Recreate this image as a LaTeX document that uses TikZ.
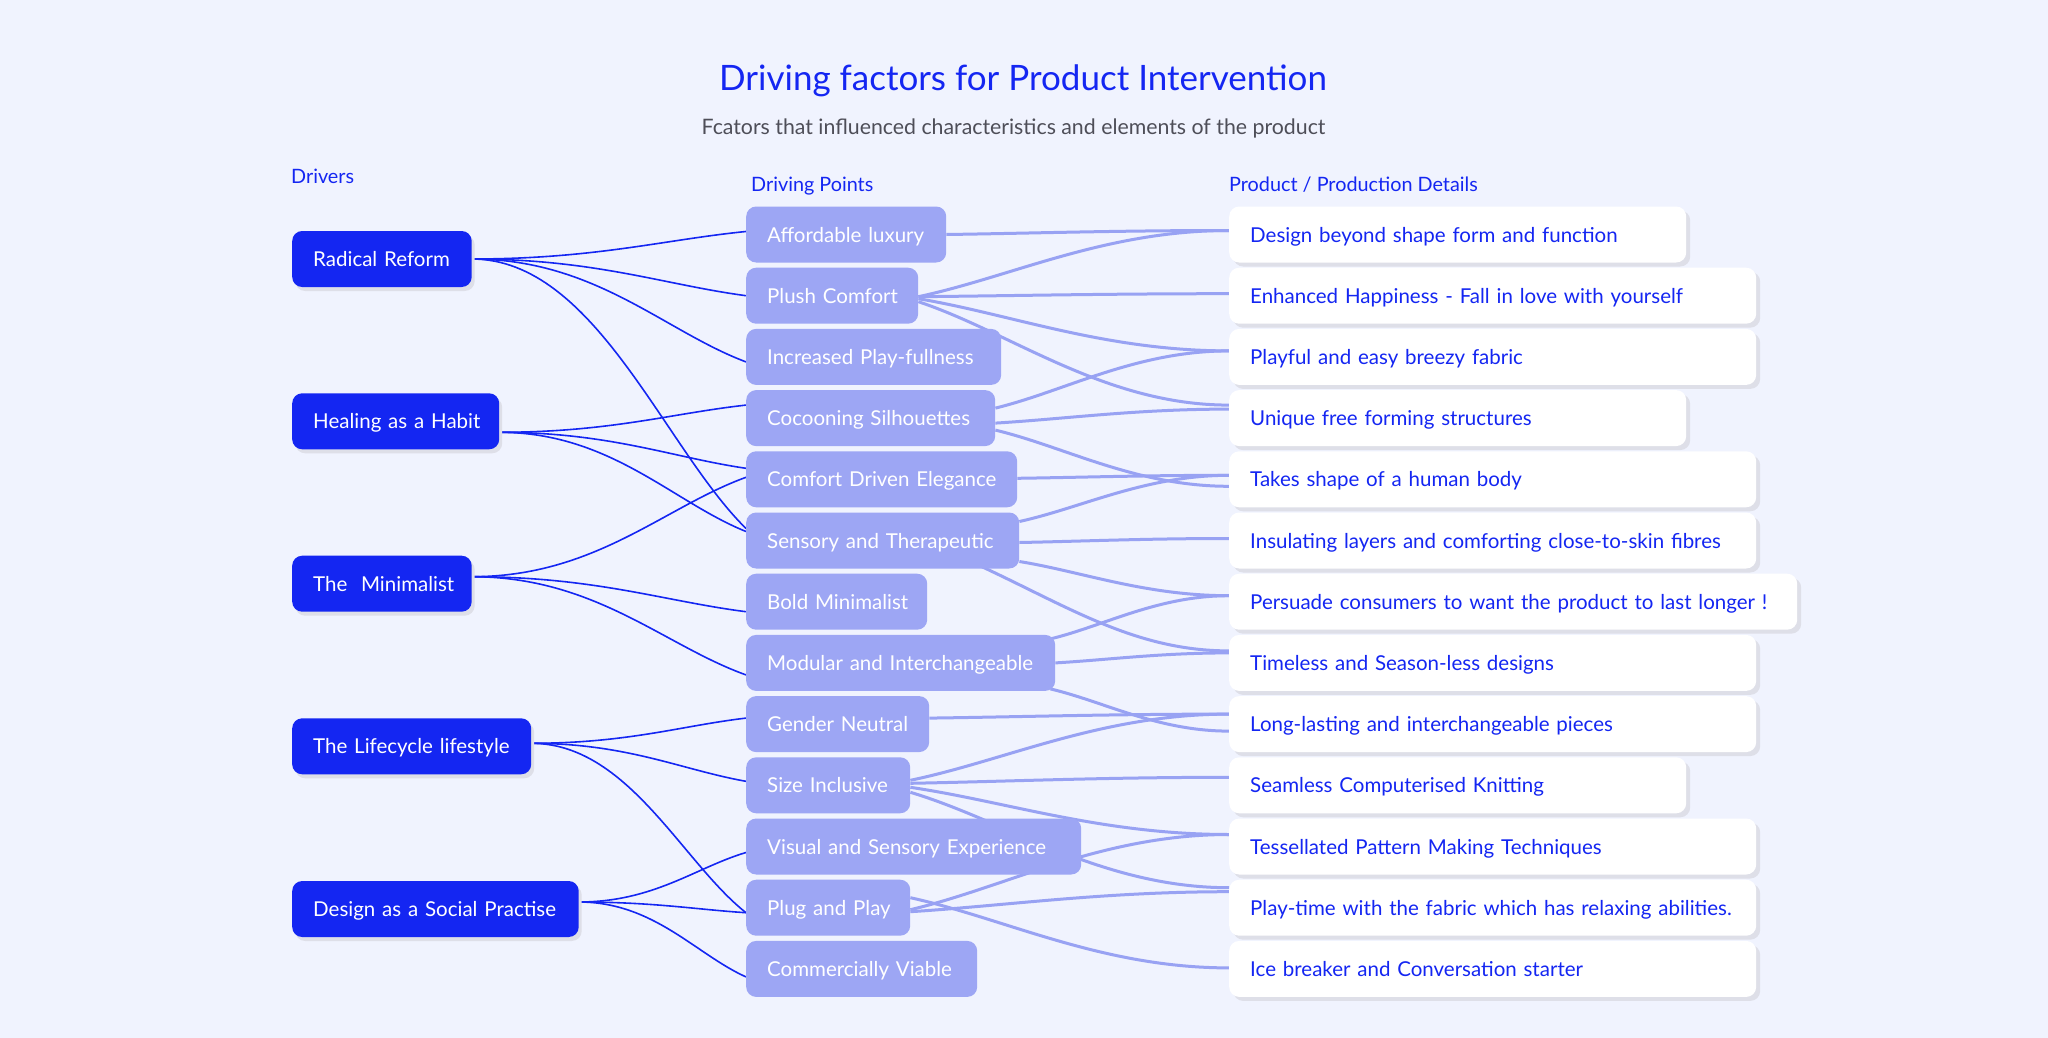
\documentclass[tikz,border=0pt]{standalone}
\usepackage{fontspec}
\setmainfont{Lato}
\usetikzlibrary{calc,shadows}
\definecolor{bgc}{RGB}{240,243,254}
\definecolor{dblue}{RGB}{20,38,242}
\definecolor{lav}{RGB}{157,166,244}
\definecolor{lavline}{RGB}{152,162,243}
\definecolor{shd}{RGB}{222,223,232}
\definecolor{subgray}{RGB}{78,78,88}
\pgfdeclarelayer{bgl}
\pgfdeclarelayer{lines}
\pgfsetlayers{bgl,lines,main}
\tikzset{
  box/.style={rounded corners=10pt, minimum height=56pt, anchor=west, inner xsep=21pt, inner ysep=0pt,
    text height=15pt, text depth=0pt, align=left, font=\fontsize{20.5}{24}\selectfont,
    execute at begin node={\hbox\bgroup}, execute at end node={\egroup}},
  dbox/.style={box, fill=dblue, text=white, drop shadow={shadow xshift=3pt, shadow yshift=-4pt, fill=shd, opacity=1}},
  mbox/.style={box, fill=lav, text=white},
  rbox/.style={box, fill=white, text=dblue, drop shadow={shadow xshift=4pt, shadow yshift=-4pt, fill=shd, opacity=1}},
  hdr/.style={inner sep=0pt, anchor=base west, text=dblue, font=\fontsize{19.8}{23}\selectfont},
  dline/.style={draw=dblue, line width=1.6pt},
  rline/.style={draw=lavline, line width=3pt},
  lcurve/.style={to path={let \p1=(\tikztostart), \p2=(\tikztotarget) in
    .. controls ({\x1+0.45*(\x2-\x1)},\y1) and ({\x2+0.3*(\x1-\x2)},{\y2+0.3*(\y1-\y2)}) .. (\tikztotarget)}},
  rcurve/.style={to path={let \p1=(\tikztostart), \p2=(\tikztotarget) in
    .. controls ({\x1+0.3*(\x2-\x1)},{\y1+0.3*(\y2-\y1)}) and ({\x2-0.4*(\x2-\x1)},\y2) .. (\tikztotarget)}}
}
\begin{document}
\begin{tikzpicture}[x=1pt,y=-1pt]
\begin{pgfonlayer}{bgl}
\fill[bgc] (0,0) rectangle (2048,1038);
\end{pgfonlayer}
\path[use as bounding box] (0,0) rectangle (2048,1038);

% titles
\node[inner sep=0pt, anchor=base, text=dblue, font=\fontsize{35}{42}\selectfont] (title) at (1023,91) {Driving factors for Product Intervention};
\node[inner sep=0pt, anchor=base, text=subgray, font=\fontsize{21.3}{25}\selectfont] (subtitle) at (1013.5,135) {Fcators that influenced characteristics and elements of the product};
\node[hdr] (h1) at (291,183.3) {Drivers};
\node[hdr] (h2) at (751,191.7) {Driving Points};
\node[hdr] (h3) at (1229,191.7) {Product / Production Details};

% drivers
\node[dbox, text width=137.5pt] (d1) at (292,259) {Radical Reform};
\node[dbox, text width=165pt] (d2) at (292,421.3) {Healing as a Habit};
\node[dbox, text width=137.5pt] (d3) at (292,583.7) {The\ \ Minimalist};
\node[dbox, text width=197pt] (d4) at (292,746.3) {The Lifecycle lifestyle};
\node[dbox, text width=244.5pt] (d5) at (292,909) {Design as a Social Practise};

% driving points
\node[mbox, text width=158pt] (m1) at (746,234.5) {Affordable luxury};
\node[mbox, text width=130pt] (m2) at (746,295.7) {Plush Comfort};
\node[mbox, text width=213pt] (m3) at (746,356.9) {Increased Play-fullness};
\node[mbox, text width=207pt] (m4) at (746,418.1) {Cocooning Silhouettes};
\node[mbox, text width=229pt] (m5) at (746,479.3) {Comfort Driven Elegance};
\node[mbox, text width=231pt] (m6) at (746,540.5) {Sensory and Therapeutic};
\node[mbox, text width=139pt] (m7) at (746,601.7) {Bold Minimalist};
\node[mbox, text width=267pt] (m8) at (746,662.9) {Modular and Interchangeable};
\node[mbox, text width=141pt] (m9) at (746,724.1) {Gender Neutral};
\node[mbox, text width=122pt] (m10) at (746,785.3) {Size Inclusive};
\node[mbox, text width=293pt] (m11) at (746,846.5) {Visual and Sensory Experience};
\node[mbox, text width=122pt] (m12) at (746,907.7) {Plug and Play};
\node[mbox, text width=189pt] (m13) at (746,968.9) {Commercially Viable};

% product details
\node[rbox, text width=415pt] (r1) at (1229,234.5) {Design beyond shape form and function};
\node[rbox, text width=485pt] (r2) at (1229,295.7) {Enhanced Happiness - Fall in love with yourself};
\node[rbox, text width=485pt] (r3) at (1229,356.9) {Playful and easy breezy fabric};
\node[rbox, text width=415pt] (r4) at (1229,418.1) {Unique free forming structures};
\node[rbox, text width=485pt] (r5) at (1229,479.3) {Takes shape of a human body};
\node[rbox, text width=485pt] (r6) at (1229,540.5) {Insulating layers and comforting close-to-skin fibres};
\node[rbox, text width=526pt] (r7) at (1229,601.7) {Persuade consumers to want the product to last longer !};
\node[rbox, text width=485pt] (r8) at (1229,662.9) {Timeless and Season-less designs};
\node[rbox, text width=485pt] (r9) at (1229,724.1) {Long-lasting and interchangeable pieces};
\node[rbox, text width=415pt] (r10) at (1229,785.3) {Seamless Computerised Knitting};
\node[rbox, text width=485pt] (r11) at (1229,846.5) {Tessellated Pattern Making Techniques};
\node[rbox, text width=485pt] (r12) at (1229,907.7) {Play-time with the fabric which has relaxing abilities.};
\node[rbox, text width=485pt] (r13) at (1229,968.9) {Ice breaker and Conversation starter};

\begin{pgfonlayer}{lines}
% drivers -> driving points
\draw[dline] (d1.east) to[lcurve] ($(m1.west)+(0,-3)$);
\draw[dline] (d1.east) to[lcurve] ($(m2.west)+(0,0)$);
\draw[dline] (d1.east) to[lcurve] ($(m3.west)+(0,5)$);
\draw[dline] (d1.east) to[lcurve] ($(m6.west)+(0,-12)$);
\draw[dline] ($(d2.east)+(0,11)$) to[lcurve] ($(m4.west)+(0,-13)$);
\draw[dline] ($(d2.east)+(0,11)$) to[lcurve] ($(m5.west)+(0,-11)$);
\draw[dline] ($(d2.east)+(0,11)$) to[lcurve] ($(m6.west)+(0,-9)$);
\draw[dline] ($(d3.east)+(0,-7)$) to[lcurve] ($(m5.west)+(0,-2)$);
\draw[dline] ($(d3.east)+(0,-7)$) to[lcurve] ($(m7.west)+(0,10)$);
\draw[dline] ($(d3.east)+(0,-7)$) to[lcurve] ($(m8.west)+(0,12)$);
\draw[dline] ($(d4.east)+(0,-3)$) to[lcurve] ($(m9.west)+(0,-6)$);
\draw[dline] ($(d4.east)+(0,-3)$) to[lcurve] ($(m10.west)+(0,-4)$);
\draw[dline] ($(d4.east)+(0,-3)$) to[lcurve] ($(m12.west)+(0,5)$);
\draw[dline] ($(d5.east)+(0,-7)$) to[lcurve] ($(m11.west)+(0,6)$);
\draw[dline] ($(d5.east)+(0,-7)$) to[lcurve] ($(m12.west)+(0,5)$);
\draw[dline] ($(d5.east)+(0,-7)$) to[lcurve] ($(m13.west)+(0,8)$);
% driving points -> product details
\draw[rline] (m1.east) to[rcurve] ($(r1.west)+(0,-4)$);
\draw[rline] ($(m2.east)+(0,1)$) to[rcurve] ($(r1.west)+(0,-4)$);
\draw[rline] ($(m2.east)+(0,1)$) to[rcurve] ($(r2.west)+(0,-2)$);
\draw[rline] ($(m2.east)+(0,3)$) to[rcurve] ($(r3.west)+(0,-6)$);
\draw[rline] ($(m2.east)+(0,6)$) to[rcurve] ($(r4.west)+(0,-13)$);
\draw[rline] ($(m4.east)+(0,-10)$) to[rcurve] ($(r3.west)+(0,-6)$);
\draw[rline] ($(m4.east)+(0,5)$) to[rcurve] ($(r4.west)+(0,-9)$);
\draw[rline] ($(m4.east)+(0,12)$) to[rcurve] ($(r5.west)+(0,7)$);
\draw[rline] ($(m5.east)+(0,-1)$) to[rcurve] ($(r5.west)+(0,-4)$);
\draw[rline] ($(m6.east)+(0,-19)$) to[rcurve] ($(r5.west)+(0,-4)$);
\draw[rline] ($(m6.east)+(0,2)$) to[rcurve] ($(r6.west)+(0,-2)$);
\draw[rline] ($(m6.east)+(0,21)$) to[rcurve] ($(r7.west)+(0,-6)$);
\draw[rline] ($(m6.east)+(-60,16)$) .. controls ($(m6.east)+(40,60)$) and ($(r8.west)+(-100,-12)$) .. ($(r8.west)+(0,-12)$);
\draw[rline] ($(m8.east)+(-5,-24)$) to[rcurve] ($(r7.west)+(0,-6)$);
\draw[rline] (m8.east) to[rcurve] ($(r8.west)+(0,-10)$);
\draw[rline] ($(m8.east)+(-5,26)$) to[rcurve] ($(r9.west)+(0,7)$);
\draw[rline] ($(m9.east)+(0,-6)$) to[rcurve] ($(r9.west)+(0,-10)$);
\draw[rline] ($(m10.east)+(0,-5)$) to[rcurve] ($(r9.west)+(0,-10)$);
\draw[rline] ($(m10.east)+(0,-2)$) to[rcurve] ($(r10.west)+(0,-8)$);
\draw[rline] ($(m10.east)+(0,2)$) to[rcurve] ($(r11.west)+(0,-12)$);
\draw[rline] ($(m10.east)+(0,7)$) to[rcurve] ($(r12.west)+(0,-20)$);
\draw[rline] ($(m12.east)+(0,2)$) to[rcurve] ($(r11.west)+(0,-12)$);
\draw[rline] ($(m12.east)+(0,4)$) to[rcurve] ($(r12.west)+(0,-16)$);
\draw[rline] ($(m12.east)+(0,-10)$) to[rcurve] ($(r13.west)+(0,-1)$);
\end{pgfonlayer}
\end{tikzpicture}
\end{document}
